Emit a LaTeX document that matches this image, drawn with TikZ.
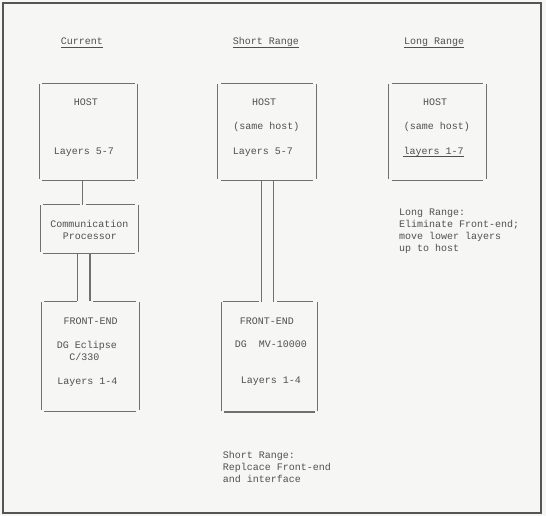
\documentclass[tikz,border=0pt]{standalone}
\usepackage{fontspec}
\newfontfamily\tw{Liberation Mono}
\definecolor{bgc}{RGB}{246,246,244}
\definecolor{ink}{RGB}{80,80,80}
\definecolor{lin}{RGB}{112,112,112}
\definecolor{frm}{RGB}{85,85,85}
\begin{document}
\begin{tikzpicture}[x=1pt,y=-1pt,
  txt/.style={inner sep=0pt,text=ink,font=\tw\fontsize{10}{12}\selectfont,anchor=base},
  note/.style={txt,anchor=base west,align=left},
  boxnode/.style={draw=none,inner sep=0pt},
  boxline/.style={draw=lin,line width=1.2pt},
  conn/.style={draw=lin,line width=1.2pt},
  ul/.style={draw=ink,line width=0.8pt}]
\fill[bgc] (0,0) rectangle (546,516);
\useasboundingbox (0,0) rectangle (546,516);
\draw[frm,line width=2.6pt] (3,3) rectangle (541,513);

% headers
\node[txt] (h1) at (82,45) {Current};
\node[txt] (h2) at (266,45) {Short Range};
\node[txt] (h3) at (434,45) {Long Range};
\foreach \h in {h1,h2,h3}
  \draw[ul] ([yshift=-2.2pt]\h.base west) -- ([yshift=-2.2pt]\h.base east);

% boxes
\node[boxnode,minimum width=98pt,minimum height=96pt] (a) at (88.5,132) {};
\node[boxnode,minimum width=98pt,minimum height=96pt] (b) at (267,132) {};
\node[boxnode,minimum width=97pt,minimum height=96pt] (c) at (437.5,132) {};
\node[boxnode,minimum width=97.5pt,minimum height=48pt] (d) at (89.25,229) {};
\node[boxnode,minimum width=97.5pt,minimum height=109.5pt] (e) at (90.25,356.25) {};
\node[boxnode,minimum width=95.8pt,minimum height=109.7pt] (f) at (269.4,356.85) {};

\foreach \n in {a,b,c,d,e,f} {
  \draw[boxline] ([yshift=-0.6pt]\n.north west) -- ([yshift=1pt]\n.south west);
  \draw[boxline] ([yshift=-0.6pt]\n.north east) -- ([yshift=1pt]\n.south east);
  \draw[boxline] ([xshift=3pt]\n.south west) -- ([xshift=-3pt]\n.south east);
}
\foreach \n in {a,b,c}
  \draw[boxline] ([xshift=3pt]\n.north west) -- ([xshift=-3pt]\n.north east);

% connector x positions
\coordinate (x1) at (82.7,0);
\coordinate (x2) at (77.3,0);
\coordinate (x3) at (90,0);
\coordinate (x4) at (261.7,0);
\coordinate (x5) at (273.3,0);

% top lines with gaps
\draw[boxline] ([xshift=3pt]d.north west) -- ([xshift=-2.5pt]d.north -| x1);
\draw[boxline] ([xshift=3pt]d.north -| x1) -- ([xshift=-3pt]d.north east);
\draw[boxline] ([xshift=3pt]e.north west) -- ([xshift=-0.8pt]e.north -| x2);
\draw[boxline] ([xshift=3.3pt]e.north -| x3) -- ([xshift=-3pt]e.north east);
\draw[boxline] ([xshift=1.5pt]f.north west) -- ([xshift=-2.5pt]f.north -| x4);
\draw[boxline] ([xshift=3.4pt]f.north -| x5) -- ([xshift=-4.5pt]f.north east);

% connectors
\draw[conn] (a.south -| x1) -- (d.north -| x1);
\draw[conn] (d.south -| x2) -- (e.north -| x2);
\draw[conn] (d.south -| x3) -- (e.north -| x3);
\draw[conn] (b.south -| x4) -- (f.north -| x4);
\draw[conn] (b.south -| x5) -- (f.north -| x5);

% box texts
\node[txt] (a1) at (86,106) {HOST};
\node[txt] (a2) at (84,154) {Layers 5-7};
\node[txt] (b1) at (264,106) {HOST};
\node[txt] (b2) at (266.5,130) {(same host)};
\node[txt] (b3) at (263,154) {Layers 5-7};
\node[txt] (c1) at (435,106) {HOST};
\node[txt] (c2) at (437,130) {(same host)};
\node[txt] (c3) at (433.5,154) {layers 1-7};
\draw[ul] ([yshift=-2.2pt]c3.base west) -- ([yshift=-2.2pt]c3.base east);
\node[txt] (d1) at (89.5,227) {Communication};
\node[txt] (d2) at (89.8,239) {Processor};
\node[txt] (e1) at (90.7,324) {FRONT-END};
\node[txt] (e2) at (87,348) {DG Eclipse};
\node[txt] (e3) at (84.3,360.7) {C/330};
\node[txt] (e4) at (87.3,384) {Layers 1-4};
\node[txt] (f1) at (267,324.7) {FRONT-END};
\node[txt] (f2) at (271,347.3) {DG\ \ MV-10000};
\node[txt] (f3) at (271,383.7) {Layers 1-4};

% notes (base anchor = baseline of the last line)
\node[note] (n1) at (399,251) {Long Range:\\Eliminate Front-end;\\move lower layers\\up to host};
\node[note] (n2) at (222.7,482) {Short Range:\\Replcace Front-end\\and interface};
\end{tikzpicture}
\end{document}
